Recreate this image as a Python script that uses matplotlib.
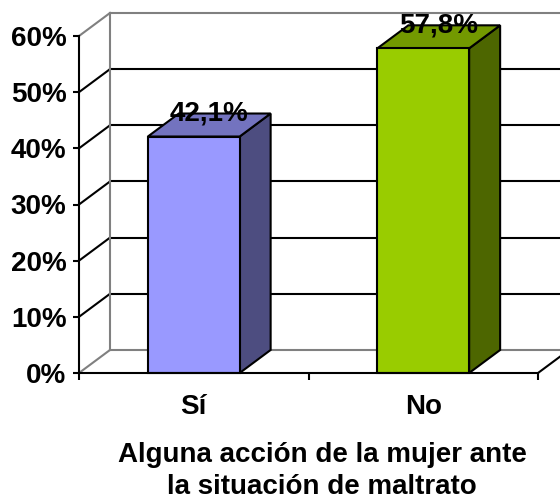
import matplotlib.pyplot as plt
from matplotlib.patches import Polygon
from matplotlib.ticker import FuncFormatter

plt.rcParams['font.family'] = ['Liberation Sans', 'DejaVu Sans']
plt.rcParams['font.weight'] = 'bold'

categories = ["Sí", "No"]
values = [42.1, 57.8]
value_labels = ["42,1%", "57,8%"]
front_colors = ["#9999FF", "#99CC00"]
top_colors = ["#7373BF", "#739900"]
side_colors = ["#4D4D80", "#4D6600"]
y_ticks = [0, 10, 20, 30, 40, 50, 60]
title = "Alguna acción de la mujer ante\nla situación de maltrato"

# fake 3d depth, in data units (category units, percent)
DX, DY = 0.135, 4.1
BAR_W = 0.4
LW = 1.5
GRAY = "#808080"
FS = 20

fig = plt.figure(figsize=(5.6, 5.03), dpi=100)
ax = fig.add_axes([79 / 560, 1 - 373 / 503, 459 / 560, 337 / 503])
ax.set_xlim(0, len(categories))
ax.set_ylim(y_ticks[0], y_ticks[-1])

# back wall, side wall and floor
n = len(categories)
for v in y_ticks:
    c = GRAY if v in (y_ticks[0], y_ticks[-1]) else "black"
    ax.plot([DX, n + DX], [v + DY, v + DY], color=c, lw=LW, clip_on=False, zorder=1)
    ax.plot([0, DX], [v, v + DY], color=c, lw=LW, clip_on=False, zorder=1)
ax.plot([DX, DX], [y_ticks[0] + DY, y_ticks[-1] + DY], color=GRAY, lw=LW, clip_on=False, zorder=1)
ax.plot([n, n + DX], [0, DY], color="black", lw=LW, clip_on=False, zorder=1)

# bars
for i, v in enumerate(values):
    xc = i + 0.5
    x0, x1 = xc - BAR_W / 2, xc + BAR_W / 2
    side = Polygon([(x1, 0), (x1 + DX, DY), (x1 + DX, v + DY), (x1, v)], closed=True,
                   facecolor=side_colors[i], edgecolor="black", lw=LW, clip_on=False, zorder=3)
    top = Polygon([(x0, v), (x1, v), (x1 + DX, v + DY), (x0 + DX, v + DY)], closed=True,
                  facecolor=top_colors[i], edgecolor="black", lw=LW, clip_on=False, zorder=3)
    ax.add_patch(side)
    ax.add_patch(top)
    ax.bar(xc, v, width=BAR_W, color=front_colors[i], edgecolor="black", lw=LW,
           clip_on=False, zorder=4)
    ax.annotate(value_labels[i], xy=(xc + DX / 2, v + DY / 2), xytext=(0, 8),
                textcoords="offset points", ha="center", va="center",
                fontsize=FS, fontweight="bold", zorder=6, annotation_clip=False)

for s in ["top", "right"]:
    ax.spines[s].set_visible(False)
for s in ["left", "bottom"]:
    ax.spines[s].set_linewidth(LW)
    ax.spines[s].set_zorder(5)

ax.set_yticks(y_ticks)
ax.yaxis.set_major_formatter(FuncFormatter(lambda v, p: f"{v:.0f}%"))
ax.tick_params(axis="y", direction="out", length=4, width=LW, pad=5, labelsize=FS)
ax.set_xticks(range(n + 1))
ax.set_xticklabels([])
ax.tick_params(axis="x", which="major", direction="out", length=5, width=LW)
ax.set_xticks([i + 0.5 for i in range(n)], labels=categories, minor=True)
ax.tick_params(axis="x", which="minor", length=0, pad=15, labelsize=FS)

fig.text(322 / 560, 1 - 471 / 503, title, ha="center", va="center",
         fontsize=FS, fontweight="bold", linespacing=1.35)

fig.savefig("out.png", dpi=100)
